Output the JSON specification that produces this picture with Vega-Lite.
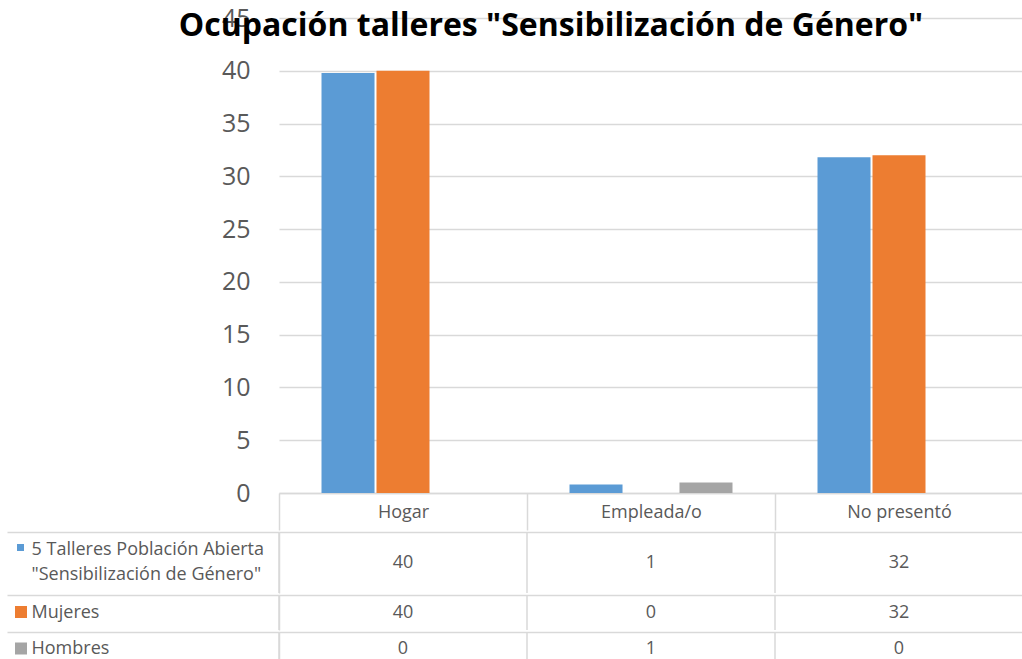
{
  "$schema": "https://vega.github.io/schema/vega-lite/v6.json",
  "padding": {"left": 6, "top": 6, "right": 0, "bottom": 0},
  "autosize": {"type": "pad"},
  "spacing": 0,
  "config": {"view": {"stroke": null}, "font": "Open Sans", "concat": {"spacing": 0}},
  "resolve": {"scale": {"fill": "independent"}, "legend": {"fill": "independent"}},
  "datasets": {
    "d": [
      {"ocupacion": "Hogar", "serie": "5 Talleres Población Abierta \"Sensibilización de Género\"", "valor": 39.8},
      {"ocupacion": "Empleada/o", "serie": "5 Talleres Población Abierta \"Sensibilización de Género\"", "valor": 0.8},
      {"ocupacion": "No presentó", "serie": "5 Talleres Población Abierta \"Sensibilización de Género\"", "valor": 31.8},
      {"ocupacion": "Hogar", "serie": "Mujeres", "valor": 40},
      {"ocupacion": "Empleada/o", "serie": "Mujeres", "valor": 0},
      {"ocupacion": "No presentó", "serie": "Mujeres", "valor": 32},
      {"ocupacion": "Hogar", "serie": "Hombres", "valor": 0},
      {"ocupacion": "Empleada/o", "serie": "Hombres", "valor": 1},
      {"ocupacion": "No presentó", "serie": "Hombres", "valor": 0}
    ]
  },
  "vconcat": [
    {
      "width": 744,
      "height": 475,
      "data": {"name": "d"},
      "title": {"text": "Ocupación talleres \"Sensibilización de Género\"", "fontSize": 32, "fontWeight": "bold", "color": "#000000", "anchor": "middle", "frame": "group", "dx": -100, "offset": -62, "baseline": "alphabetic"},
      "mark": {"type": "bar"},
      "encoding": {
        "x": {"field": "ocupacion", "type": "nominal", "sort": ["Hogar", "Empleada/o", "No presentó"],
          "scale": {"paddingInner": 0, "paddingOuter": 0},
          "axis": {"title": null, "labelAngle": 0, "tickBand": "extent", "ticks": true, "tickSize": 37, "tickColor": "#d9d9d9", "tickWidth": 1.5, "domainColor": "#d9d9d9", "domainWidth": 1.5, "labelPadding": -18, "labelBaseline": "middle", "labelFontSize": 18, "labelColor": "#595959", "grid": false}},
        "xOffset": {"field": "serie", "type": "nominal", "sort": ["5 Talleres Población Abierta \"Sensibilización de Género\"", "Mujeres", "Hombres"],
          "scale": {"paddingInner": 0.036, "paddingOuter": 0.773}},
        "y": {"field": "valor", "type": "quantitative", "scale": {"domain": [0, 45]},
          "axis": {"title": null, "values": [0, 5, 10, 15, 20, 25, 30, 35, 40, 45], "domain": false, "ticks": false, "grid": true, "gridColor": "#d9d9d9", "gridWidth": 1.5, "labelFontSize": 25, "labelColor": "#595959", "labelPadding": 29, "minExtent": 272, "maxExtent": 272}},
        "color": {"field": "serie", "type": "nominal", "scale": {"domain": ["5 Talleres Población Abierta \"Sensibilización de Género\"", "Mujeres", "Hombres"], "range": ["#5b9bd5", "#ed7d31", "#a5a5a5"]}, "legend": null}
      }
    },
    {
      "width": 744,
      "height": 61,
      "data": {"name": "d"},
      "transform": [{"filter": {"field": "serie", "equal": "5 Talleres Población Abierta \"Sensibilización de Género\""}}],
      "layer": [
        {"mark": {"type": "rule", "color": "#d9d9d9", "strokeWidth": 1.5},
         "encoding": {"x": {"field": "ocupacion", "type": "nominal", "sort": ["Hogar", "Empleada/o", "No presentó"], "bandPosition": 0, "scale": {"type": "band", "paddingInner": 0, "paddingOuter": 0}, "axis": null}}},
        {"mark": {"type": "text", "fontSize": 18, "color": "#595959"},
         "encoding": {
          "x": {"field": "ocupacion", "type": "nominal", "sort": ["Hogar", "Empleada/o", "No presentó"], "scale": {"type": "band", "paddingInner": 0, "paddingOuter": 0}, "axis": null},
          "y": {"field": "serie", "type": "nominal", "scale": {"type": "band", "paddingInner": 0, "paddingOuter": 0},
            "axis": {"title": null, "domain": true, "domainColor": "#d9d9d9", "domainWidth": 1.5, "ticks": true, "bandPosition": 0, "tickSize": 272, "tickColor": "#d9d9d9", "tickWidth": 1.5, "grid": true, "gridColor": "#d9d9d9", "gridWidth": 1.5, "labelAlign": "left", "labelBaseline": "middle", "labelPadding": -24, "labelFontSize": 18, "labelColor": "#595959", "labelLineHeight": 25, "labelLimit": 300, "labelOffset": -12.5, "labelExpr": "['5 Talleres Población Abierta', '\"Sensibilización de Género\"']", "minExtent": 272, "maxExtent": 272}},
          "text": {"field": "valor", "type": "quantitative", "format": ".0f"}}},
        {"mark": {"type": "point", "shape": "square", "filled": true, "opacity": 0},
         "encoding": {
          "x": {"field": "ocupacion", "type": "nominal", "sort": ["Hogar", "Empleada/o", "No presentó"], "scale": {"type": "band", "paddingInner": 0, "paddingOuter": 0}, "axis": null},
          "fill": {"field": "serie", "type": "nominal", "scale": {"range": ["#5b9bd5"]},
            "legend": {"orient": "none", "legendX": -262, "legendY": 12, "title": null, "symbolType": "square", "symbolSize": 49, "symbolOpacity": 1, "symbolStrokeWidth": 0, "labelExpr": "''", "labelFontSize": 1, "padding": 0, "labelOffset": 0}}}}
      ]
    },
    {
      "width": 744,
      "height": 35,
      "data": {"name": "d"},
      "transform": [{"filter": {"field": "serie", "equal": "Mujeres"}}],
      "layer": [
        {"mark": {"type": "rule", "color": "#d9d9d9", "strokeWidth": 1.5},
         "encoding": {"x": {"field": "ocupacion", "type": "nominal", "sort": ["Hogar", "Empleada/o", "No presentó"], "bandPosition": 0, "scale": {"type": "band", "paddingInner": 0, "paddingOuter": 0}, "axis": null}}},
        {"mark": {"type": "text", "fontSize": 18, "color": "#595959"},
         "encoding": {
          "x": {"field": "ocupacion", "type": "nominal", "sort": ["Hogar", "Empleada/o", "No presentó"], "scale": {"type": "band", "paddingInner": 0, "paddingOuter": 0}, "axis": null},
          "y": {"field": "serie", "type": "nominal", "scale": {"type": "band", "paddingInner": 0, "paddingOuter": 0},
            "axis": {"title": null, "domain": true, "domainColor": "#d9d9d9", "domainWidth": 1.5, "ticks": true, "bandPosition": 0, "tickSize": 272, "tickColor": "#d9d9d9", "tickWidth": 1.5, "grid": true, "gridColor": "#d9d9d9", "gridWidth": 1.5, "labelAlign": "left", "labelBaseline": "middle", "labelPadding": -24, "labelFontSize": 18, "labelColor": "#595959", "labelLimit": 300, "minExtent": 272, "maxExtent": 272}},
          "text": {"field": "valor", "type": "quantitative", "format": ".0f"}}},
        {"mark": {"type": "point", "shape": "square", "filled": true, "opacity": 0},
         "encoding": {
          "x": {"field": "ocupacion", "type": "nominal", "sort": ["Hogar", "Empleada/o", "No presentó"], "scale": {"type": "band", "paddingInner": 0, "paddingOuter": 0}, "axis": null},
          "fill": {"field": "serie", "type": "nominal", "scale": {"range": ["#ed7d31"]},
            "legend": {"orient": "none", "legendX": -264, "legendY": 11, "title": null, "symbolType": "square", "symbolSize": 144, "symbolOpacity": 1, "symbolStrokeWidth": 0, "labelExpr": "''", "labelFontSize": 1, "padding": 0, "labelOffset": 0}}}}
      ]
    },
    {
      "width": 744,
      "height": 34,
      "data": {"name": "d"},
      "transform": [{"filter": {"field": "serie", "equal": "Hombres"}}],
      "layer": [
        {"mark": {"type": "rule", "color": "#d9d9d9", "strokeWidth": 1.5},
         "encoding": {"x": {"field": "ocupacion", "type": "nominal", "sort": ["Hogar", "Empleada/o", "No presentó"], "bandPosition": 0, "scale": {"type": "band", "paddingInner": 0, "paddingOuter": 0}, "axis": null}}},
        {"mark": {"type": "text", "fontSize": 18, "color": "#595959"},
         "encoding": {
          "x": {"field": "ocupacion", "type": "nominal", "sort": ["Hogar", "Empleada/o", "No presentó"], "scale": {"type": "band", "paddingInner": 0, "paddingOuter": 0}, "axis": null},
          "y": {"field": "serie", "type": "nominal", "scale": {"type": "band", "paddingInner": 0, "paddingOuter": 0},
            "axis": {"title": null, "domain": true, "domainColor": "#d9d9d9", "domainWidth": 1.5, "ticks": true, "bandPosition": 0, "tickSize": 272, "tickColor": "#d9d9d9", "tickWidth": 1.5, "grid": true, "gridColor": "#d9d9d9", "gridWidth": 1.5, "labelAlign": "left", "labelBaseline": "middle", "labelPadding": -24, "labelFontSize": 18, "labelColor": "#595959", "labelLimit": 300, "minExtent": 272, "maxExtent": 272}},
          "text": {"field": "valor", "type": "quantitative", "format": ".0f"}}},
        {"mark": {"type": "point", "shape": "square", "filled": true, "opacity": 0},
         "encoding": {
          "x": {"field": "ocupacion", "type": "nominal", "sort": ["Hogar", "Empleada/o", "No presentó"], "scale": {"type": "band", "paddingInner": 0, "paddingOuter": 0}, "axis": null},
          "fill": {"field": "serie", "type": "nominal", "scale": {"range": ["#a5a5a5"]},
            "legend": {"orient": "none", "legendX": -264, "legendY": 10.5, "title": null, "symbolType": "square", "symbolSize": 144, "symbolOpacity": 1, "symbolStrokeWidth": 0, "labelExpr": "''", "labelFontSize": 1, "padding": 0, "labelOffset": 0}}}}
      ]
    }
  ]
}
